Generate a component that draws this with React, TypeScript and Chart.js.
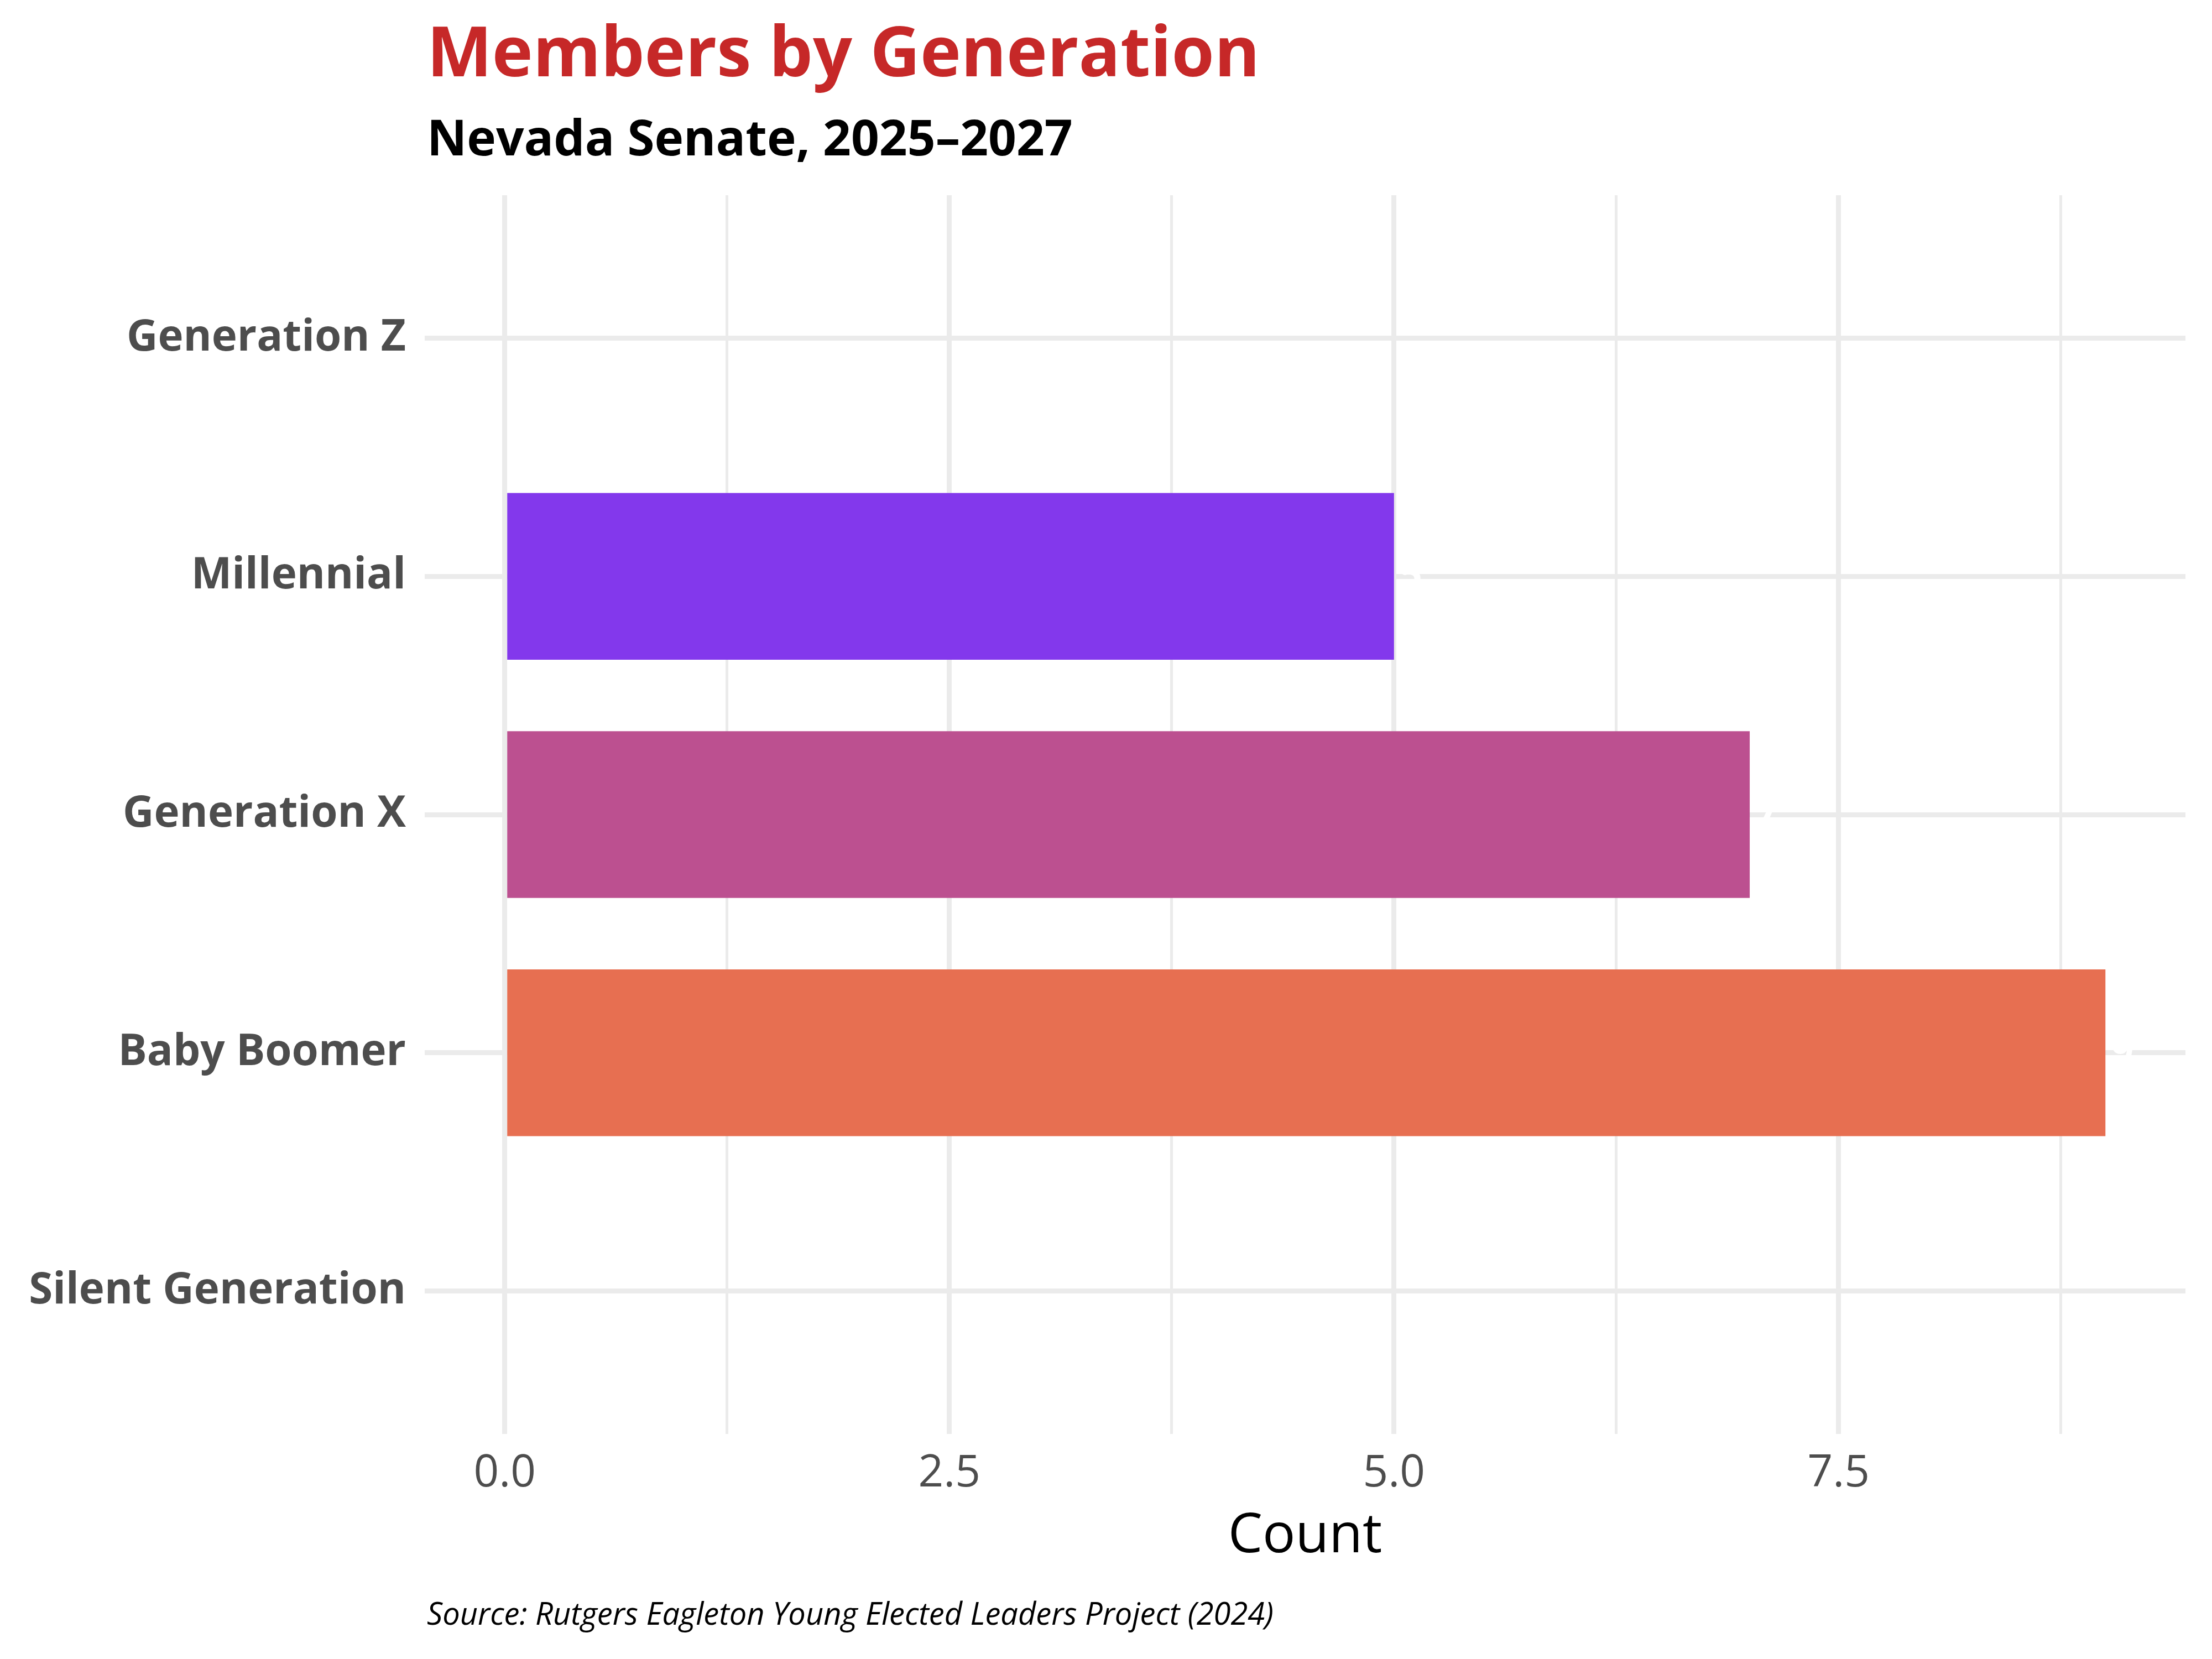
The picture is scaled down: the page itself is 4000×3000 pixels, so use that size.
import React, { useEffect, useRef } from "react";
import { Chart, registerables } from "chart.js";

Chart.register(...registerables);

const categories = ["Generation Z", "Millennial", "Generation X", "Baby Boomer", "Silent Generation"];
const counts = [0, 5, 7, 9, 0];
const barColors = ["#3A86FF", "#8338EC", "#BC5090", "#E76F51", "#FFBE0B"];
const xMajorTicks = [0, 2.5, 5, 7.5];
const xMinorTicks = [1.25, 3.75, 6.25, 8.75];

const titleText = "Members by Generation";
const subtitleText = "Nevada Senate, 2025\u20132027";
const xTitleText = "Count";
const captionText = "Source: Rutgers Eagleton Young Elected Leaders Project (2024)";

const FONT = "'Open Sans', 'Noto Sans', sans-serif";

const textPlugin = {
  id: "textPlugin",
  afterDatasetsDraw(chart: any) {
    const ctx = chart.ctx;
    const area = chart.chartArea;
    const xs = chart.scales.x;
    const ys = chart.scales.y;
    ctx.save();
    // value labels (white, just right of bar ends)
    ctx.fillStyle = "#FFFFFF";
    ctx.font = `bold 72px ${FONT}`;
    ctx.textAlign = "left";
    ctx.textBaseline = "middle";
    counts.forEach((v, i) => {
      if (v > 0) {
        ctx.fillText(String(v), xs.getPixelForValue(v) + 10, ys.getPixelForValue(i));
      }
    });
    // title
    ctx.textBaseline = "alphabetic";
    ctx.fillStyle = "#C62828";
    ctx.font = `bold 125px ${FONT}`;
    ctx.fillText(titleText, area.left + 4, 138);
    ctx.fillStyle = "#000000";
    ctx.font = `bold 89px ${FONT}`;
    ctx.fillText(subtitleText, area.left + 4, 281);
    // x axis title
    ctx.textAlign = "center";
    ctx.font = `99px ${FONT}`;
    ctx.fillText(xTitleText, (area.left + area.right) / 2, 2807);
    // caption
    ctx.textAlign = "left";
    ctx.font = `italic 56px ${FONT}`;
    ctx.fillText(captionText, area.left + 4, 2938);
    ctx.restore();
  },
};

export default function App() {
  const canvasRef = useRef<HTMLCanvasElement | null>(null);

  useEffect(() => {
    if (!canvasRef.current) return;
    const data = counts.map((v, i) => ({ x: v, y: i }));
    const chart = new Chart(canvasRef.current, {
      type: "bar",
      data: {
        datasets: [
          {
            data: data as any,
            backgroundColor: barColors,
            borderWidth: 0,
            barPercentage: 0.7,
            categoryPercentage: 1,
          },
        ],
      },
      plugins: [textPlugin],
      options: {
        indexAxis: "y",
        animation: false,
        responsive: false,
        maintainAspectRatio: false,
        devicePixelRatio: 1,
        layout: { padding: { top: 353, right: 48, bottom: 0, left: 0 } },
        plugins: {
          legend: { display: false },
          tooltip: { enabled: false },
          title: { display: false },
        },
        scales: {
          x: {
            type: "linear",
            min: -0.45,
            max: 9.45,
            bounds: "data",
            afterBuildTicks: (scale: any) => {
              scale.ticks = [...xMajorTicks, ...xMinorTicks]
                .sort((a, b) => a - b)
                .map((v) => ({ value: v }));
            },
            afterFit: (scale: any) => {
              scale.height = 407;
            },
            grid: {
              color: "#EBEBEB",
              lineWidth: (c: any) => (c.tick && xMajorTicks.includes(c.tick.value) ? 9 : 5),
              drawTicks: false,
            },
            border: { display: false },
            ticks: {
              autoSkip: false,
              maxRotation: 0,
              padding: 24,
              color: "#4D4D4D",
              font: { family: FONT, size: 80 },
              callback: (value: any) =>
                xMajorTicks.includes(Number(value)) ? Number(value).toFixed(1) : "",
            },
          },
          y: {
            type: "linear",
            min: -0.6,
            max: 4.6,
            reverse: true,
            offset: false,
            bounds: "data",
            afterBuildTicks: (scale: any) => {
              scale.ticks = categories.map((_, i) => ({ value: i }));
            },
            afterFit: (scale: any) => {
              scale.width = 768;
            },
            grid: {
              color: "#EBEBEB",
              lineWidth: 9,
              drawTicks: false,
              offset: false,
            },
            border: { display: false },
            ticks: {
              autoSkip: false,
              padding: 34,
              color: "#4D4D4D",
              font: { family: FONT, size: 78, weight: "bold" },
              callback: (value: any) => categories[Number(value)] ?? "",
            },
          },
        },
      },
    });
    return () => chart.destroy();
  }, []);

  return (
    <div style={{ position: "absolute", left: 0, top: 0, width: 4000, height: 3000, background: "#FFFFFF" }}>
      <canvas ref={canvasRef} width={4000} height={3000} style={{ width: 4000, height: 3000, display: "block" }} />
    </div>
  );
}
